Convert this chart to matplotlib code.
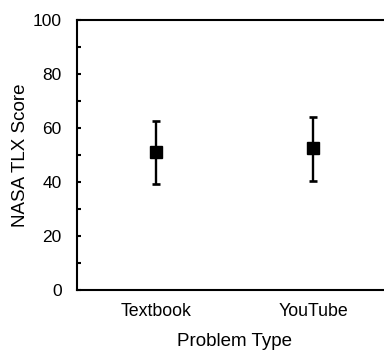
import numpy as np
import matplotlib.pyplot as plt
from matplotlib.ticker import MultipleLocator

plt.rcParams['font.family'] = ['Liberation Sans', 'DejaVu Sans']

# Mean NASA TLX score with error bar ends per problem type
problem_types = ['Textbook', 'YouTube']
mean_scores = [51.2, 52.5]
upper_ends = [62.7, 64.2]
lower_ends = [39.1, 40.4]

means = np.array(mean_scores)
yerr = [means - np.array(lower_ends), np.array(upper_ends) - means]
x = np.arange(1, len(problem_types) + 1)

fig = plt.figure(figsize=(3.84, 3.56), dpi=100)
ax = fig.add_axes([77 / 384, 66 / 356, 315 / 384, 270 / 356])

ax.errorbar(x, means, yerr=yerr, fmt='s', color='black', markersize=8,
            elinewidth=1.7, capsize=3, capthick=1.9)

ax.set_xlim(0.5, 2.5)
ax.set_ylim(0, 100)
ax.yaxis.set_major_locator(MultipleLocator(20))
ax.yaxis.set_minor_locator(MultipleLocator(10))
ax.set_xticks(x)
ax.set_xticklabels(problem_types)

for s in ax.spines.values():
    s.set_linewidth(1.5)

ax.tick_params(axis='y', which='both', direction='in', length=3, width=1.5,
               labelsize=12.5, pad=11)
ax.tick_params(axis='x', length=0, labelsize=12.8, pad=9)

ax.set_xlabel('Problem Type', fontsize=13.5, labelpad=9.5)
ax.set_ylabel('NASA TLX Score', fontsize=13.5, labelpad=2.7)

fig.savefig('out.png', dpi=100)
